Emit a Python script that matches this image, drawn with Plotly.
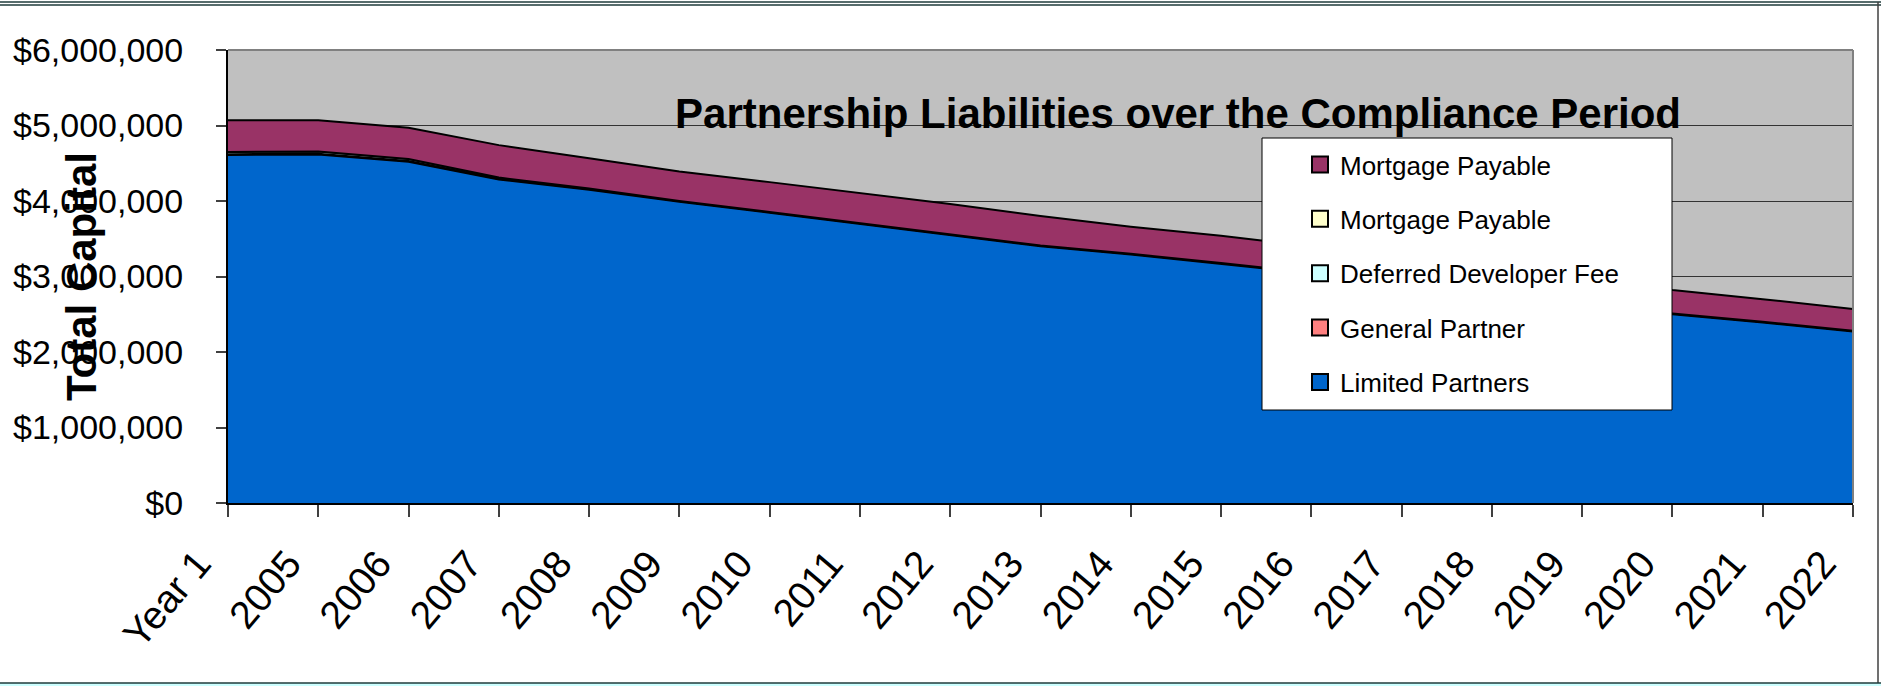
import plotly.graph_objects as go

# ---------------- data ----------------
years = ["Year 1", "2005", "2006", "2007", "2008", "2009", "2010", "2011", "2012",
         "2013", "2014", "2015", "2016", "2017", "2018", "2019", "2020", "2021", "2022"]

limited_partners = [4610000, 4615000, 4520000, 4285000, 4150000, 3990000, 3845000, 3700000,
                    3550000, 3400000, 3290000, 3170000, 3040000, 2900000, 2770000, 2630000,
                    2500000, 2390000, 2270000]
general_partner = [10000, 10000, 10000, 10000, 10000, 10000, 10000, 10000, 10000, 10000,
                   10000, 10000, 10000, 10000, 10000, 10000, 10000, 10000, 10000]
deferred_dev_fee = [30000, 30000, 25000, 15000, 5000, 0, 0, 0, 0, 0,
                    0, 0, 0, 0, 0, 0, 0, 0, 0]
mortgage_payable_2 = [0, 0, 0, 0, 0, 0, 0, 0, 0, 0,
                      0, 0, 0, 0, 0, 0, 0, 0, 0]
mortgage_payable_1 = [420000, 415000, 415000, 430000, 400000, 390000, 395000, 390000, 400000,
                      390000, 360000, 360000, 350000, 350000, 340000, 330000, 310000, 300000,
                      290000]

series = [
    ("Limited Partners", limited_partners, "#0066CC"),
    ("General Partner", general_partner, "#FF8080"),
    ("Deferred Developer Fee", deferred_dev_fee, "#CCFFFF"),
    ("Mortgage Payable", mortgage_payable_2, "#FFFFCC"),
    ("Mortgage Payable", mortgage_payable_1, "#993366"),
]

title_text = "Partnership Liabilities over the Compliance Period"
y_title = "Total Capital"

FONT = "Arial, Liberation Sans, sans-serif"

# plot area in pixels
W, H = 1881, 686
L, R, T, B = 228, 1853, 50, 503
PW, PH = R - L, B - T


def px(xp):
    return (xp - L) / PW


def py(yp):
    return (B - yp) / PH


fig = go.Figure()

# stacked areas
for name, vals, col in series:
    fig.add_trace(go.Scatter(
        x=years, y=vals, name=name, mode="lines", stackgroup="one",
        line=dict(color="black", width=2, shape="linear"),
        fillcolor=col, showlegend=False, hoverinfo="x+y+name",
    ))

# legend entries (top to bottom as in the reference)
for i, (name, vals, col) in enumerate(reversed(series)):
    fig.add_trace(go.Scatter(
        x=[None], y=[None], mode="markers", name=name, legendgroup=f"g{i}",
        marker=dict(symbol="square", size=16, color=col, line=dict(color="black", width=2)),
        showlegend=True,
    ))

shapes = [
    # legend box
    dict(type="rect", xref="paper", yref="paper", x0=px(1262), x1=px(1672), y0=py(410), y1=py(138),
         fillcolor="white", line=dict(color="#000000", width=1), layer="above"),
    # plot-area top and right borders
    dict(type="line", xref="paper", yref="paper", x0=0, x1=1, y0=1, y1=1,
         line=dict(color="#808080", width=2), layer="above"),
    dict(type="line", xref="paper", yref="paper", x0=1, x1=1, y0=0, y1=1,
         line=dict(color="#808080", width=2), layer="above"),
    # outer frame
    dict(type="line", xref="paper", yref="paper", x0=px(0), x1=px(W), y0=py(2), y1=py(2),
         line=dict(color="#1f3b3b", width=1.5), layer="above"),
    dict(type="line", xref="paper", yref="paper", x0=px(0), x1=px(W), y0=py(5), y1=py(5),
         line=dict(color="#1f3b3b", width=1.5), layer="above"),
    dict(type="line", xref="paper", yref="paper", x0=px(1878), x1=px(1878), y0=py(2), y1=py(683),
         line=dict(color="#404040", width=1.5), layer="above"),
    dict(type="rect", xref="paper", yref="paper", x0=px(0), x1=px(W), y0=py(683), y1=py(W),
         fillcolor="#CCFFFF", line=dict(width=0), layer="above"),
    dict(type="line", xref="paper", yref="paper", x0=px(0), x1=px(W), y0=py(683), y1=py(683),
         line=dict(color="#1f3b3b", width=1.5), layer="above"),
]

fig.update_layout(
    width=W, height=H,
    margin=dict(l=L, r=W - R, t=T, b=H - B, pad=0, autoexpand=False),
    paper_bgcolor="white",
    plot_bgcolor="#C0C0C0",
    font=dict(family=FONT, color="black"),
    title=dict(text=title_text, xref="paper", yref="paper", x=px(1178), y=py(113),
               xanchor="center", yanchor="middle",
               font=dict(size=42, family=FONT, color="black", weight="bold")),
    showlegend=True,
    legend=dict(
        x=px(1300), y=py(141), xanchor="left", yanchor="top",
        bgcolor="rgba(0,0,0,0)", borderwidth=0,
        font=dict(size=26, family=FONT, color="black"),
        traceorder="grouped", tracegroupgap=17.6, itemsizing="trace",
    ),
    shapes=shapes,
    annotations=[dict(
        text=y_title, xref="paper", yref="paper", x=px(81), y=py(277),
        xanchor="center", yanchor="middle", textangle=-90, showarrow=False,
        font=dict(size=42, family=FONT, color="black", weight="bold"),
    )],
)

fig.update_xaxes(
    type="category", range=[0, len(years) - 1], automargin=False,
    showgrid=False, zeroline=False,
    showline=True, linecolor="black", linewidth=2,
    ticks="outside", ticklen=12, tickcolor="#404040", tickwidth=1.5,
    tickangle=-50, tickfont=dict(size=39, family=FONT, color="black"),
    ticklabelstandoff=8, ticklabelshift=-30,
)
fig.update_yaxes(
    range=[0, 6000000], dtick=1000000, tick0=0, automargin=False,
    tickprefix="$", tickformat=",d",
    showgrid=True, gridcolor="#333333", gridwidth=1,
    zeroline=False,
    showline=True, linecolor="black", linewidth=2,
    ticks="outside", ticklen=10, tickcolor="#404040", tickwidth=1.5,
    ticklabelstandoff=26,
    tickfont=dict(size=34, family=FONT, color="black"),
)

fig.write_html("out.html")
